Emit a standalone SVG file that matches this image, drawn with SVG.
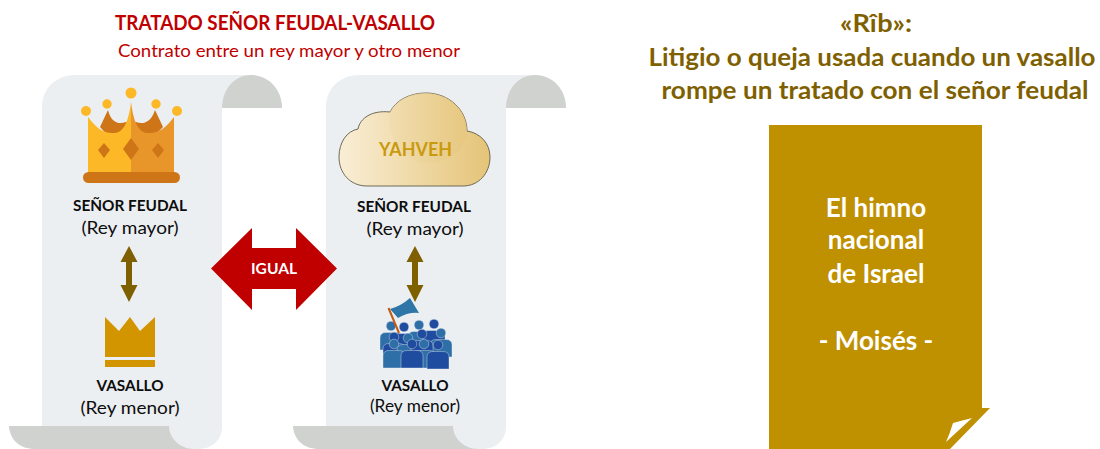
<svg xmlns="http://www.w3.org/2000/svg" xmlns:xlink="http://www.w3.org/1999/xlink" width="1100" height="449" viewBox="0 0 1100 449">
<style>
text{font-family:"Lato","Liberation Sans",sans-serif;text-anchor:middle;fill:#0d0d0d}
.b{font-weight:700}
.lab{font-size:16px}
.sub{font-size:18px}
.hd{font-size:24px;font-weight:700;fill:#7f6000}
.pap{font-size:26px;font-weight:700;fill:#fff}
.lt{fill:#2e6fa8}.dk{fill:#1f4c9e}
</style>
<defs>
<linearGradient id="cg" x1="0" x2="1" y1="0" y2="0"><stop offset="0" stop-color="#f9eed6"/><stop offset="1" stop-color="#e5c478"/></linearGradient>
<linearGradient id="cg2" x1="0" x2="1" y1="0" y2="0"><stop offset="0" stop-color="#f0dcae"/><stop offset="1" stop-color="#e6c67c"/></linearGradient>
<g id="scroll">
<path d="M42 108C42 88 56 75 76 75H250C270 75 282 90 282 108H222V427C222 440 212 449 198 449H35C20 449 10 440 9 426H42Z" fill="#ebeff2"/>
<path d="M222 108C222 90 234 75 251 75C269 75 282 90 282 108Z" fill="#d0d2cf"/>
<path d="M9 426H169C169 438 180 449 194 449H36C20 449 10 440 9 426Z" fill="#d0d2cf"/>
</g>
<path id="dbl" d="M0 0L8.500 16H3V39H8.500L0 56L-8.500 39H-3V16H-8.500Z" fill="#7f6000"/>
<g id="person"><circle cx="0" cy="0" r="4.800"/><path d="M-11 24V12Q-11 6.500 -5 6.500H5Q11 6.500 11 12V24Z"/></g>
</defs>

<g id="titulo">
<text x="275" y="30" class="b" font-size="20" style="fill:#c00000" textLength="320" lengthAdjust="spacingAndGlyphs">TRATADO SEÑOR FEUDAL-VASALLO</text>
<text x="289" y="57" font-size="17" style="fill:#c00000" textLength="342" lengthAdjust="spacingAndGlyphs">Contrato entre un rey mayor y otro menor</text>
</g>

<g id="rollo-izquierdo"><use href="#scroll"/></g>
<g id="rollo-derecho"><use href="#scroll" x="284"/></g>

<g id="corona-mayor">
<path d="M100 127L108 110C111 122 118 125 126 122L136 122C144 125 151 122 155 110L163 127L150 140H112Z" fill="#ce7518"/>
<path d="M88 117C96 128 104 134 115 133C125 132 129 118 131 102V172H88Z" fill="#fdb827"/>
<path d="M174 117C166 128 158 134 147 133C137 132 133 118 131 102V172H174Z" fill="#e8962a"/>
<path d="M104 143L110 150L104 158L98 150ZM131 138L139 149L131 160L123 149ZM158 143L164 150L158 158L152 150Z" fill="#ce7518"/>
<rect x="83" y="172" width="97" height="11" rx="5.500" fill="#ce7518"/>
<g fill="#fdb827"><circle cx="131" cy="93" r="5.500"/><circle cx="107" cy="104" r="4.700"/><circle cx="156" cy="104" r="4.700"/><circle cx="86" cy="111" r="5"/><circle cx="177" cy="111" r="5"/></g>
</g>
<g id="senor-izq">
<text x="130" y="211" class="b lab" textLength="114" lengthAdjust="spacingAndGlyphs">SEÑOR FEUDAL</text>
<text x="130" y="234" class="sub" textLength="97" lengthAdjust="spacingAndGlyphs">(Rey mayor)</text>
</g>
<g id="vasallo-izq">
<path d="M105 317L119 331L130 317L140 331L155 317V357H105ZM105 360H155V367H105Z" fill="#d29500"/>
<text x="130" y="391" class="b lab" textLength="67" lengthAdjust="spacingAndGlyphs">VASALLO</text>
<text x="130" y="414" class="sub" textLength="99" lengthAdjust="spacingAndGlyphs">(Rey menor)</text>
</g>

<g id="nube">
<path d="M367 186C350 186 339 173 339 157C339 142 347 131 358 129C360 118 372 110 390 112C396 100 410 93 426 93C449 93 467 110 467 131C480 133 490 143 490 157C490 173 479 186 463 186Z" fill="url(#cg)" stroke="#6f6a55" stroke-width="1"/>
<path d="M390 112C396 100 410 93 426 93C449 93 467 110 467 131C466 150 450 163 426 163C405 163 385 135 390 112Z" fill="url(#cg2)" opacity="0.700"/>
<text x="415.500" y="156" class="b" font-size="18" style="fill:#c99a0d" textLength="73" lengthAdjust="spacingAndGlyphs">YAHVEH</text>
</g>
<g id="senor-der">
<text x="414" y="212" class="b lab" textLength="114" lengthAdjust="spacingAndGlyphs">SEÑOR FEUDAL</text>
<text x="415" y="235" class="sub" textLength="97" lengthAdjust="spacingAndGlyphs">(Rey mayor)</text>
</g>
<g id="vasallo-der">
<g stroke="#ebeff2" stroke-width="0.400">
<use href="#person" x="391" y="326" class="lt"/>
<use href="#person" x="404" y="327" class="dk"/>
<use href="#person" x="419" y="325" class="lt"/>
<use href="#person" x="434" y="324" class="dk"/>
<use href="#person" x="441" y="333" class="lt"/>
<use href="#person" x="394" y="337" class="dk"/>
<use href="#person" x="408" y="338" class="lt"/>
<use href="#person" x="422" y="334" class="dk"/>
<use href="#person" x="424" y="344" class="lt"/>
<use href="#person" x="438" y="345" class="dk"/>
<use href="#person" x="394" y="344" class="lt"/>
<use href="#person" x="412" y="344" class="dk"/>
</g>
<path d="M390 309Q401 306 410 298L419 313Q408 312 398 318Z" fill="#2e75a8"/>
<path d="M388.500 308L399 333" stroke="#c55a11" stroke-width="2" fill="none"/>
<text x="415" y="391" class="b lab" textLength="67" lengthAdjust="spacingAndGlyphs">VASALLO</text>
<text x="415" y="412" font-size="16.500" textLength="90" lengthAdjust="spacingAndGlyphs">(Rey menor)</text>
</g>

<g id="conectores">
<use href="#dbl" x="129" y="246"/>
<use href="#dbl" x="415" y="246"/>
</g>

<g id="igual">
<path d="M211 268.500L252 228V248H296V228L337 268.500L296 310V289H252V310Z" fill="#c00000"/>
<text x="274" y="274" class="b" font-size="15" style="fill:#fff" textLength="46" lengthAdjust="spacingAndGlyphs">IGUAL</text>
</g>

<g id="rib">
<text x="876" y="32" class="hd" textLength="72" lengthAdjust="spacingAndGlyphs">«Rîb»:</text>
<text x="872" y="66" class="hd" textLength="447" lengthAdjust="spacingAndGlyphs">Litigio o queja usada cuando un vasallo</text>
<text x="875" y="99" class="hd" textLength="427" lengthAdjust="spacingAndGlyphs">rompe un tratado con el señor feudal</text>
</g>

<g id="himno">
<path d="M769 125H982V408H990L950 449H769Z" fill="#bf9000"/>
<path d="M972 418Q960 421 953 423Q950 433 946 442Z" fill="#fff"/>
<text x="876" y="217" class="pap">El himno</text>
<text x="876" y="249" class="pap">nacional</text>
<text x="876" y="283" class="pap">de Israel</text>
<text x="876" y="350" class="pap">- Moisés -</text>
</g>
</svg>
